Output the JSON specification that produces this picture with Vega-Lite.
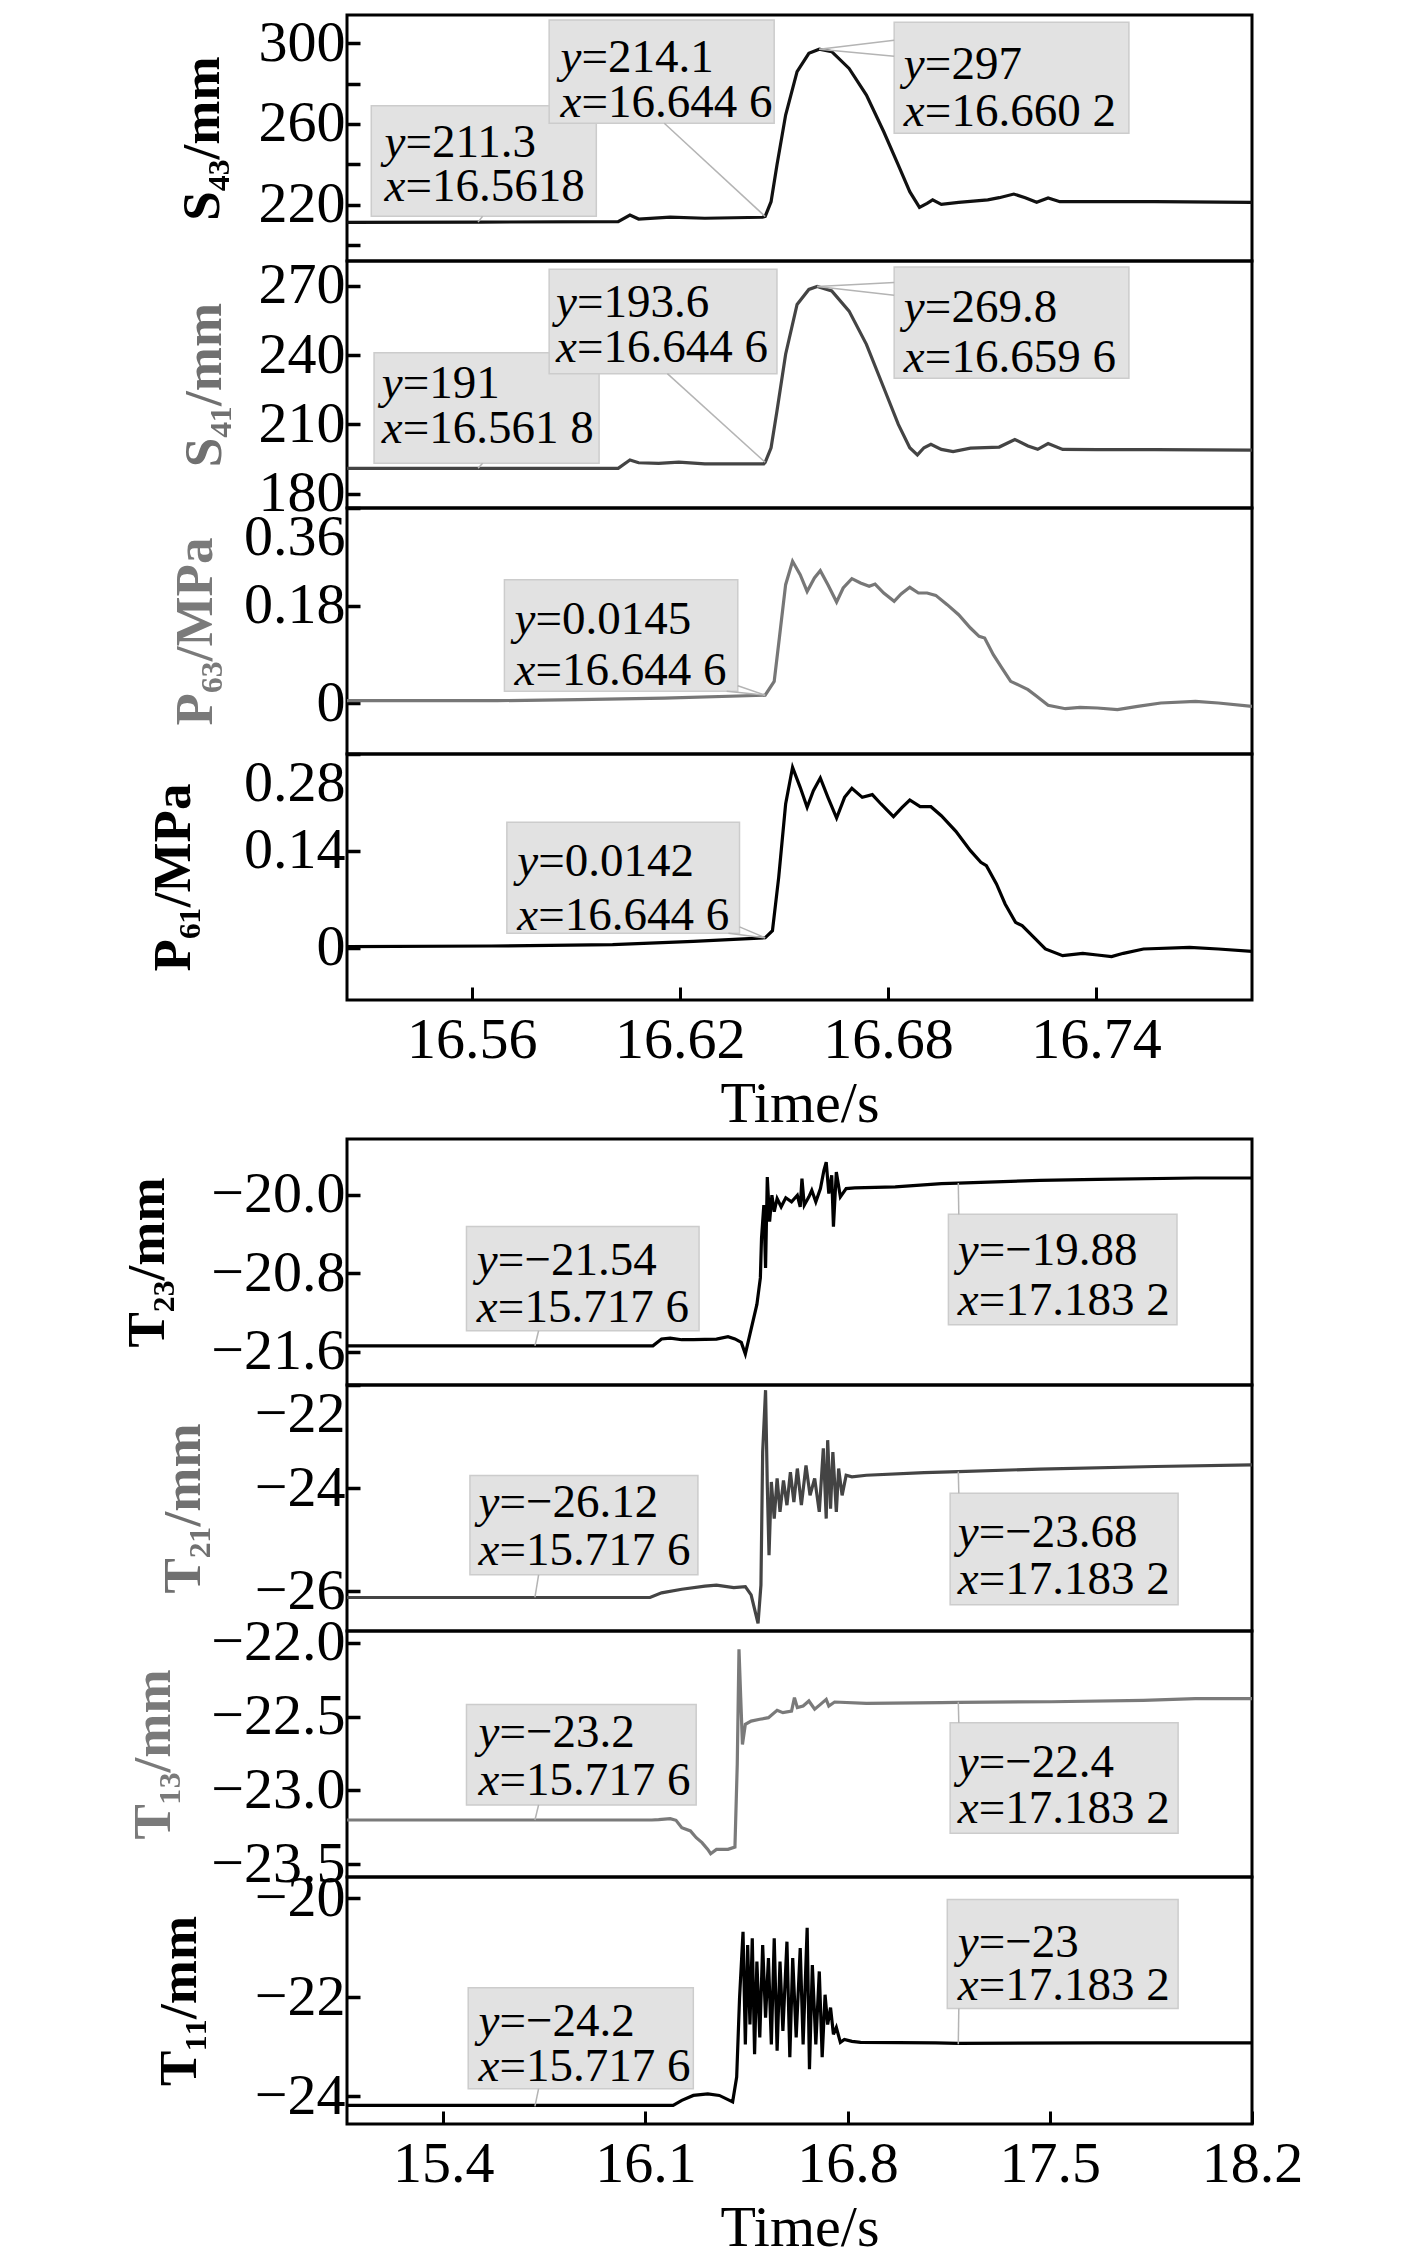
{
  "$schema": "https://vega.github.io/schema/vega-lite/v6.json",
  "background": "white",
  "padding": {"left": 119, "top": 12, "right": 10, "bottom": 0},
  "spacing": 2,
  "config": {
    "view": {"stroke": "#000000", "strokeWidth": 3},
    "axis": {"grid": false, "domain": false, "tickColor": "#000000", "tickSize": -13, "tickWidth": 3.5,
      "labelFont": "Liberation Serif", "labelFontSize": 58, "labelColor": "#000000",
      "titleFont": "Liberation Serif", "titleFontSize": 53, "titleColor": "#000000",
      "labelPadding": 15, "labelFlush": 2, "labelOverlap": false},
    "axisX": {"labelFlush": false, "titleFontWeight": "normal", "titleFontSize": 58, "labelPadding": 24, "titlePadding": 6, "tickWidth": 3},
    "axisY": {"titleFontWeight": "bold", "titleBaseline": "middle"},
    "text": {"font": "Liberation Serif"}
  },
  "datasets": {
    "s43": [
      {"x":16.524,"y":211.2},{"x":16.5623,"y":211.3},{"x":16.6022,"y":211.5},{"x":16.6056,"y":214.8},{"x":16.6081,"y":212.8},{"x":16.6172,"y":213.8},{"x":16.6272,"y":213.2},{"x":16.6438,"y":213.7},{"x":16.6446,"y":214.1},{"x":16.6463,"y":221.4},{"x":16.648,"y":239.6},{"x":16.6505,"y":264.4},{"x":16.6538,"y":285.9},{"x":16.6572,"y":295.0},{"x":16.6602,"y":297.0},{"x":16.6638,"y":295.8},{"x":16.6688,"y":287.5},{"x":16.6738,"y":274.3},{"x":16.6788,"y":256.1},{"x":16.683,"y":239.6},{"x":16.6863,"y":226.4},{"x":16.6891,"y":218.6},{"x":16.6913,"y":220.6},{"x":16.6929,"y":222.3},{"x":16.6954,"y":220.1},{"x":16.7004,"y":221.1},{"x":16.7088,"y":222.3},{"x":16.7121,"y":223.4},{"x":16.7163,"y":225.2},{"x":16.7196,"y":223.4},{"x":16.7229,"y":221.1},{"x":16.7262,"y":223.3},{"x":16.7296,"y":221.4},{"x":16.7404,"y":221.4},{"x":16.757,"y":221.4},{"x":16.785,"y":221.1}
    ],
    "s43b": [
      {"x":16.531,"x2":16.5959,"y":269.0,"y2":214.2},
      {"x":16.5823,"x2":16.6472,"y":311.5,"y2":260.3},
      {"x":16.6818,"x2":16.7495,"y":310.4,"y2":255.3}
    ],
    "s43l": [
      {"x":16.5631,"y":214.2,"x2":16.5618,"y2":211.3},
      {"x":16.6155,"y":260.3,"x2":16.6446,"y2":214.1},
      {"x":16.6818,"y":301.5,"x2":16.6602,"y2":297},
      {"x":16.6818,"y":293.5,"x2":16.6602,"y2":297}
    ],
    "s43t": [
      {"x":16.5348,"y":250.4,"p":"y","v":"=211.3"},{"x":16.5348,"y":228.9,"p":"x","v":"=16.5618"},
      {"x":16.5856,"y":292.5,"p":"y","v":"=214.1"},{"x":16.5856,"y":270.2,"p":"x","v":"=16.644 6"},
      {"x":16.6846,"y":289.2,"p":"y","v":"=297"},{"x":16.6846,"y":266.1,"p":"x","v":"=16.660 2"}
    ],
    "s41": [
      {"x":16.524,"y":191.0},{"x":16.5623,"y":191.0},{"x":16.6022,"y":191.0},{"x":16.6056,"y":194.6},{"x":16.6081,"y":193.4},{"x":16.6139,"y":193.1},{"x":16.6197,"y":193.7},{"x":16.6272,"y":192.9},{"x":16.6442,"y":192.9},{"x":16.6446,"y":193.6},{"x":16.6463,"y":199.9},{"x":16.648,"y":215.8},{"x":16.6505,"y":240.4},{"x":16.6538,"y":262.0},{"x":16.6572,"y":268.5},{"x":16.6596,"y":269.8},{"x":16.6638,"y":267.8},{"x":16.6688,"y":259.1},{"x":16.6738,"y":244.7},{"x":16.6788,"y":225.9},{"x":16.683,"y":210.0},{"x":16.6863,"y":199.9},{"x":16.6885,"y":196.8},{"x":16.6904,"y":199.9},{"x":16.6924,"y":201.4},{"x":16.6954,"y":199.2},{"x":16.6988,"y":198.2},{"x":16.7038,"y":199.7},{"x":16.7121,"y":200.2},{"x":16.7166,"y":203.5},{"x":16.7204,"y":200.7},{"x":16.7232,"y":199.2},{"x":16.7262,"y":201.7},{"x":16.7304,"y":199.2},{"x":16.7404,"y":199.1},{"x":16.757,"y":199.1},{"x":16.785,"y":198.9}
    ],
    "s41b": [
      {"x":16.5318,"x2":16.5967,"y":241.1,"y2":193.2},
      {"x":16.5823,"x2":16.648,"y":277.2,"y2":232.0},
      {"x":16.6818,"x2":16.7495,"y":278.2,"y2":230.0}
    ],
    "s41l": [
      {"x":16.5631,"y":193.2,"x2":16.5618,"y2":191},
      {"x":16.6164,"y":232.0,"x2":16.6446,"y2":193.6},
      {"x":16.6818,"y":271.5,"x2":16.6596,"y2":269.8},
      {"x":16.6818,"y":266.0,"x2":16.6596,"y2":269.8}
    ],
    "s41t": [
      {"x":16.534,"y":227.4,"p":"y","v":"=191"},{"x":16.534,"y":207.9,"p":"x","v":"=16.561 8"},
      {"x":16.5843,"y":262.75,"p":"y","v":"=193.6"},{"x":16.5843,"y":243.0,"p":"x","v":"=16.644 6"},
      {"x":16.6846,"y":260.6,"p":"y","v":"=269.8"},{"x":16.6846,"y":238.9,"p":"x","v":"=16.659 6"}
    ],
    "p63": [
      {"x":16.524,"y":0.0044},{"x":16.5673,"y":0.0044},{"x":16.5906,"y":0.0063},{"x":16.6155,"y":0.0093},{"x":16.6446,"y":0.0145},{"x":16.6472,"y":0.04},{"x":16.6488,"y":0.126},{"x":16.6505,"y":0.2185},{"x":16.6525,"y":0.2616},{"x":16.6547,"y":0.237},{"x":16.6567,"y":0.206},{"x":16.6588,"y":0.231},{"x":16.6605,"y":0.2443},{"x":16.6627,"y":0.2185},{"x":16.6652,"y":0.1865},{"x":16.6671,"y":0.2124},{"x":16.6696,"y":0.2296},{"x":16.6721,"y":0.2216},{"x":16.6746,"y":0.2154},{"x":16.6763,"y":0.2197},{"x":16.6788,"y":0.2031},{"x":16.6818,"y":0.1877},{"x":16.6838,"y":0.2013},{"x":16.6863,"y":0.2136},{"x":16.6888,"y":0.2031},{"x":16.6913,"y":0.2031},{"x":16.6938,"y":0.1988},{"x":16.6971,"y":0.1816},{"x":16.7004,"y":0.1631},{"x":16.7038,"y":0.1385},{"x":16.7063,"y":0.1231},{"x":16.7079,"y":0.1201},{"x":16.7104,"y":0.0893},{"x":16.7129,"y":0.0647},{"x":16.7154,"y":0.0401},{"x":16.7179,"y":0.0327},{"x":16.7204,"y":0.0247},{"x":16.7229,"y":0.0124},{"x":16.7262,"y":-0.0042},{"x":16.7312,"y":-0.0104},{"x":16.7354,"y":-0.0079},{"x":16.7404,"y":-0.0091},{"x":16.7462,"y":-0.0122},{"x":16.752,"y":-0.006},{"x":16.7587,"y":0.0001},{"x":16.7687,"y":0.0032},{"x":16.7753,"y":0.0001},{"x":16.785,"y":-0.006}
    ],
    "p63b": [{"x":16.5694,"x2":16.6367,"y":0.2277,"y2":0.0216}],
    "p63l": [
      {"x":16.6367,"y":0.032,"x2":16.6446,"y2":0.0145},
      {"x":16.6335,"y":0.0216,"x2":16.6446,"y2":0.0145}
    ],
    "p63t": [
      {"x":16.5723,"y":0.1539,"p":"y","v":"=0.0145"},{"x":16.5723,"y":0.0586,"p":"x","v":"=16.644 6"}
    ],
    "p61": [
      {"x":16.524,"y":0.0013},{"x":16.5656,"y":0.0023},{"x":16.6006,"y":0.0042},{"x":16.6239,"y":0.0091},{"x":16.6446,"y":0.0142},{"x":16.6467,"y":0.0245},{"x":16.6485,"y":0.1016},{"x":16.6505,"y":0.2077},{"x":16.6525,"y":0.2607},{"x":16.6547,"y":0.2318},{"x":16.6567,"y":0.2029},{"x":16.6585,"y":0.227},{"x":16.6605,"y":0.2453},{"x":16.6627,"y":0.2173},{"x":16.6652,"y":0.1874},{"x":16.6675,"y":0.2173},{"x":16.6696,"y":0.2303},{"x":16.6726,"y":0.2173},{"x":16.6755,"y":0.2212},{"x":16.678,"y":0.2077},{"x":16.6816,"y":0.1894},{"x":16.6841,"y":0.2029},{"x":16.6863,"y":0.2135},{"x":16.6893,"y":0.2038},{"x":16.6924,"y":0.2038},{"x":16.6954,"y":0.1908},{"x":16.6996,"y":0.1682},{"x":16.7038,"y":0.1402},{"x":16.7068,"y":0.1233},{"x":16.7084,"y":0.1185},{"x":16.7113,"y":0.092},{"x":16.7138,"y":0.0631},{"x":16.7168,"y":0.0365},{"x":16.7187,"y":0.0317},{"x":16.7221,"y":0.0148},{"x":16.7254,"y":-0.002},{"x":16.7304,"y":-0.0117},{"x":16.7362,"y":-0.0083},{"x":16.7404,"y":-0.0107},{"x":16.7445,"y":-0.0131},{"x":16.7479,"y":-0.0083},{"x":16.7537,"y":-0.002},{"x":16.767,"y":0.0004},{"x":16.7753,"y":-0.002},{"x":16.785,"y":-0.0054}
    ],
    "p61b": [{"x":16.5701,"x2":16.6372,"y":0.1812,"y2":0.0206}],
    "p61l": [
      {"x":16.6372,"y":0.03,"x2":16.6446,"y2":0.0142},
      {"x":16.634,"y":0.0206,"x2":16.6446,"y2":0.0142}
    ],
    "p61t": [
      {"x":16.5731,"y":0.1233,"p":"y","v":"=0.0142"},{"x":16.5731,"y":0.0462,"p":"x","v":"=16.644 6"}
    ],
    "t23": [
      {"x":15.067,"y":-21.54},{"x":15.7176,"y":-21.54},{"x":16.126,"y":-21.54},{"x":16.156,"y":-21.471},{"x":16.186,"y":-21.461},{"x":16.226,"y":-21.478},{"x":16.266,"y":-21.478},{"x":16.346,"y":-21.471},{"x":16.386,"y":-21.447},{"x":16.41,"y":-21.47},{"x":16.432,"y":-21.505},{"x":16.446,"y":-21.623},{"x":16.462,"y":-21.42},{"x":16.486,"y":-21.117},{"x":16.498,"y":-20.847},{"x":16.502,"y":-20.442},{"x":16.51,"y":-20.105},{"x":16.516,"y":-20.746},{"x":16.522,"y":-19.818},{"x":16.53,"y":-20.273},{"x":16.538,"y":-20.004},{"x":16.546,"y":-20.172},{"x":16.556,"y":-20.037},{"x":16.57,"y":-20.122},{"x":16.586,"y":-20.03},{"x":16.606,"y":-20.071},{"x":16.626,"y":-20.004},{"x":16.636,"y":-20.122},{"x":16.642,"y":-19.835},{"x":16.65,"y":-20.105},{"x":16.666,"y":-20.02},{"x":16.676,"y":-19.953},{"x":16.69,"y":-20.071},{"x":16.706,"y":-19.936},{"x":16.718,"y":-19.75},{"x":16.726,"y":-19.666},{"x":16.735,"y":-19.987},{"x":16.745,"y":-19.801},{"x":16.751,"y":-20.324},{"x":16.761,"y":-19.767},{"x":16.775,"y":-20.02},{"x":16.795,"y":-19.936},{"x":16.825,"y":-19.929},{"x":16.965,"y":-19.919},{"x":17.125,"y":-19.885},{"x":17.1832,"y":-19.88},{"x":17.465,"y":-19.852},{"x":17.665,"y":-19.842},{"x":18.004,"y":-19.828},{"x":18.2,"y":-19.828}
    ],
    "t23b": [
      {"x":15.4806,"x2":16.2858,"y":-20.324,"y2":-21.387},
      {"x":17.149,"x2":17.9403,"y":-20.199,"y2":-21.326}
    ],
    "t23l": [
      {"x":15.7303,"y":-21.387,"x2":15.7176,"y2":-21.54},
      {"x":17.185,"y":-20.199,"x2":17.1832,"y2":-19.88}
    ],
    "t23t": [
      {"x":15.5166,"y":-20.678,"p":"y","v":"=−21.54"},{"x":15.5166,"y":-21.151,"p":"x","v":"=15.717 6"},
      {"x":17.181,"y":-20.577,"p":"y","v":"=−19.88"},{"x":17.181,"y":-21.083,"p":"x","v":"=17.183 2"}
    ],
    "t21": [
      {"x":15.067,"y":-26.12},{"x":15.7176,"y":-26.12},{"x":16.116,"y":-26.12},{"x":16.156,"y":-26.03},{"x":16.226,"y":-25.96},{"x":16.306,"y":-25.9},{"x":16.346,"y":-25.88},{"x":16.406,"y":-25.93},{"x":16.446,"y":-25.91},{"x":16.466,"y":-26.07},{"x":16.49,"y":-26.62},{"x":16.5,"y":-25.88},{"x":16.506,"y":-23.3},{"x":16.516,"y":-22.1},{"x":16.522,"y":-23.94},{"x":16.528,"y":-25.3},{"x":16.536,"y":-23.88},{"x":16.546,"y":-24.59},{"x":16.556,"y":-23.81},{"x":16.566,"y":-24.46},{"x":16.578,"y":-23.85},{"x":16.59,"y":-24.33},{"x":16.602,"y":-23.69},{"x":16.614,"y":-24.27},{"x":16.626,"y":-23.62},{"x":16.64,"y":-24.33},{"x":16.656,"y":-23.56},{"x":16.67,"y":-24.14},{"x":16.686,"y":-23.81},{"x":16.702,"y":-24.46},{"x":16.716,"y":-23.23},{"x":16.726,"y":-24.59},{"x":16.731,"y":-23.07},{"x":16.741,"y":-24.4},{"x":16.749,"y":-23.3},{"x":16.761,"y":-24.46},{"x":16.769,"y":-23.62},{"x":16.781,"y":-24.14},{"x":16.795,"y":-23.75},{"x":16.815,"y":-23.78},{"x":16.865,"y":-23.75},{"x":17.065,"y":-23.7},{"x":17.1832,"y":-23.68},{"x":17.465,"y":-23.63},{"x":17.864,"y":-23.58},{"x":18.2,"y":-23.55}
    ],
    "t21b": [
      {"x":15.4926,"x2":16.2818,"y":-23.757,"y2":-25.68},
      {"x":17.155,"x2":17.9442,"y":-24.099,"y2":-26.26}
    ],
    "t21l": [
      {"x":15.7303,"y":-25.68,"x2":15.7176,"y2":-26.12},
      {"x":17.185,"y":-24.099,"x2":17.1832,"y2":-23.68}
    ],
    "t21t": [
      {"x":15.5226,"y":-24.293,"p":"y","v":"=−26.12"},{"x":15.5226,"y":-25.228,"p":"x","v":"=15.717 6"},
      {"x":17.181,"y":-24.873,"p":"y","v":"=−23.68"},{"x":17.181,"y":-25.776,"p":"x","v":"=17.183 2"}
    ],
    "t13": [
      {"x":15.067,"y":-23.2},{"x":15.7176,"y":-23.2},{"x":16.122,"y":-23.2},{"x":16.146,"y":-23.198},{"x":16.186,"y":-23.191},{"x":16.206,"y":-23.202},{"x":16.226,"y":-23.252},{"x":16.256,"y":-23.274},{"x":16.276,"y":-23.32},{"x":16.296,"y":-23.353},{"x":16.316,"y":-23.399},{"x":16.326,"y":-23.428},{"x":16.346,"y":-23.399},{"x":16.386,"y":-23.399},{"x":16.41,"y":-23.383},{"x":16.418,"y":-22.823},{"x":16.424,"y":-22.044},{"x":16.43,"y":-22.371},{"x":16.436,"y":-22.688},{"x":16.446,"y":-22.552},{"x":16.466,"y":-22.53},{"x":16.496,"y":-22.518},{"x":16.526,"y":-22.507},{"x":16.556,"y":-22.457},{"x":16.576,"y":-22.473},{"x":16.606,"y":-22.462},{"x":16.616,"y":-22.371},{"x":16.626,"y":-22.439},{"x":16.646,"y":-22.428},{"x":16.666,"y":-22.394},{"x":16.686,"y":-22.45},{"x":16.706,"y":-22.417},{"x":16.726,"y":-22.383},{"x":16.735,"y":-22.428},{"x":16.755,"y":-22.401},{"x":16.865,"y":-22.41},{"x":17.125,"y":-22.405},{"x":17.1832,"y":-22.403},{"x":17.505,"y":-22.399},{"x":17.824,"y":-22.39},{"x":18.004,"y":-22.378},{"x":18.2,"y":-22.378}
    ],
    "t13b": [
      {"x":15.4806,"x2":16.2758,"y":-22.417,"y2":-23.098},
      {"x":17.155,"x2":17.9442,"y":-22.541,"y2":-23.29}
    ],
    "t13l": [
      {"x":15.7303,"y":-23.098,"x2":15.7176,"y2":-23.2},
      {"x":17.185,"y":-22.541,"x2":17.1832,"y2":-22.4}
    ],
    "t13t": [
      {"x":15.5226,"y":-22.609,"p":"y","v":"=−23.2"},{"x":15.5226,"y":-22.936,"p":"x","v":"=15.717 6"},
      {"x":17.181,"y":-22.812,"p":"y","v":"=−22.4"},{"x":17.181,"y":-23.128,"p":"x","v":"=17.183 2"}
    ],
    "t11": [
      {"x":15.067,"y":-24.18},{"x":16.196,"y":-24.18},{"x":16.226,"y":-24.08},{"x":16.266,"y":-23.98},{"x":16.316,"y":-23.95},{"x":16.356,"y":-23.98},{"x":16.402,"y":-24.11},{"x":16.416,"y":-23.61},{"x":16.426,"y":-22.01},{"x":16.438,"y":-20.68},{"x":16.446,"y":-22.95},{"x":16.454,"y":-20.95},{"x":16.462,"y":-22.55},{"x":16.47,"y":-20.81},{"x":16.478,"y":-23.15},{"x":16.486,"y":-21.28},{"x":16.496,"y":-22.81},{"x":16.506,"y":-20.95},{"x":16.516,"y":-22.41},{"x":16.526,"y":-21.21},{"x":16.536,"y":-22.95},{"x":16.546,"y":-20.81},{"x":16.556,"y":-23.08},{"x":16.566,"y":-21.28},{"x":16.576,"y":-22.68},{"x":16.59,"y":-20.88},{"x":16.6,"y":-23.21},{"x":16.61,"y":-21.21},{"x":16.622,"y":-22.81},{"x":16.636,"y":-21.01},{"x":16.646,"y":-22.95},{"x":16.66,"y":-20.6},{"x":16.668,"y":-23.45},{"x":16.678,"y":-21.35},{"x":16.69,"y":-22.95},{"x":16.702,"y":-21.48},{"x":16.712,"y":-23.21},{"x":16.722,"y":-21.95},{"x":16.731,"y":-22.55},{"x":16.741,"y":-22.21},{"x":16.751,"y":-22.75},{"x":16.761,"y":-22.61},{"x":16.775,"y":-22.91},{"x":16.789,"y":-22.85},{"x":16.815,"y":-22.89},{"x":16.845,"y":-22.91},{"x":17.105,"y":-22.92},{"x":17.1832,"y":-22.93},{"x":17.665,"y":-22.92},{"x":18.2,"y":-22.92}
    ],
    "t11b": [
      {"x":15.4866,"x2":16.2659,"y":-21.809,"y2":-23.843},
      {"x":17.1451,"x2":17.9442,"y":-20.029,"y2":-22.229}
    ],
    "t11l": [
      {"x":15.7303,"y":-23.843,"x2":15.7176,"y2":-24.2},
      {"x":17.185,"y":-22.229,"x2":17.1832,"y2":-22.95}
    ],
    "t11t": [
      {"x":15.5226,"y":-22.509,"p":"y","v":"=−24.2"},{"x":15.5226,"y":-23.409,"p":"x","v":"=15.717 6"},
      {"x":17.181,"y":-20.909,"p":"y","v":"=−23"},{"x":17.181,"y":-21.776,"p":"x","v":"=17.183 2"}
    ]
  },
  "vconcat": [
    {
      "spacing": 0,
      "bounds": "flush",
      "vconcat": [
        {
          "width": 905, "height": 246,
          "encoding": {
            "x": {"field": "x", "type": "quantitative", "scale": {"domain": [16.524, 16.785], "nice": false, "zero": false}, "axis": null},
            "y": {"field": "y", "type": "quantitative", "scale": {"domain": [192, 314], "nice": false, "zero": false},
              "axis": {"title": "S₄₃/mm", "titleX": -145, "values": [200, 220, 240, 260, 280, 300], "labelExpr": "datum.value % 40 == 20 ? datum.label : ''"}}
          },
          "layer": [
            {"data": {"name": "s43"}, "mark": {"type": "line", "color": "#111111", "strokeWidth": 3.2, "clip": true}},
            {"data": {"name": "s43b"}, "mark": {"type": "rect", "fill": "#e2e2e2", "stroke": "#cccccc", "strokeWidth": 1.5}, "encoding": {"x2": {"field": "x2"}, "y2": {"field": "y2"}}},
            {"data": {"name": "s43l"}, "mark": {"type": "rule", "color": "#b4b4b4", "strokeWidth": 1.5}, "encoding": {"x2": {"field": "x2"}, "y2": {"field": "y2"}}},
            {"data": {"name": "s43t"}, "mark": {"type": "text", "fontSize": 47, "fontStyle": "italic", "align": "left", "baseline": "middle", "color": "#000000"}, "encoding": {"text": {"field": "p"}}},
            {"data": {"name": "s43t"}, "mark": {"type": "text", "fontSize": 47, "align": "left", "baseline": "middle", "dx": 21, "color": "#000000"}, "encoding": {"text": {"field": "v"}}}
          ]
        },
        {
          "width": 905, "height": 247,
          "encoding": {
            "x": {"field": "x", "type": "quantitative", "scale": {"domain": [16.524, 16.785], "nice": false, "zero": false}, "axis": null},
            "y": {"field": "y", "type": "quantitative", "scale": {"domain": [173.8, 280.8], "nice": false, "zero": false},
              "axis": {"title": "S₄₁/mm", "titleX": -143, "titleColor": "#707070", "values": [180, 210, 240, 270]}}
          },
          "layer": [
            {"data": {"name": "s41"}, "mark": {"type": "line", "color": "#444444", "strokeWidth": 3.2, "clip": true}},
            {"data": {"name": "s41b"}, "mark": {"type": "rect", "fill": "#e2e2e2", "stroke": "#cccccc", "strokeWidth": 1.5}, "encoding": {"x2": {"field": "x2"}, "y2": {"field": "y2"}}},
            {"data": {"name": "s41l"}, "mark": {"type": "rule", "color": "#b4b4b4", "strokeWidth": 1.5}, "encoding": {"x2": {"field": "x2"}, "y2": {"field": "y2"}}},
            {"data": {"name": "s41t"}, "mark": {"type": "text", "fontSize": 47, "fontStyle": "italic", "align": "left", "baseline": "middle", "color": "#000000"}, "encoding": {"text": {"field": "p"}}},
            {"data": {"name": "s41t"}, "mark": {"type": "text", "fontSize": 47, "align": "left", "baseline": "middle", "dx": 21, "color": "#000000"}, "encoding": {"text": {"field": "v"}}}
          ]
        },
        {
          "width": 905, "height": 246,
          "encoding": {
            "x": {"field": "x", "type": "quantitative", "scale": {"domain": [16.524, 16.785], "nice": false, "zero": false}, "axis": null},
            "y": {"field": "y", "type": "quantitative", "scale": {"domain": [-0.094, 0.36], "nice": false, "zero": false},
              "axis": {"title": "P₆₃/MPa", "titleX": -152, "titleColor": "#7a7a7a", "values": [0, 0.18, 0.36], "format": ".2~f"}}
          },
          "layer": [
            {"data": {"name": "p63"}, "mark": {"type": "line", "color": "#777777", "strokeWidth": 3.2, "clip": true}},
            {"data": {"name": "p63b"}, "mark": {"type": "rect", "fill": "#e2e2e2", "stroke": "#cccccc", "strokeWidth": 1.5}, "encoding": {"x2": {"field": "x2"}, "y2": {"field": "y2"}}},
            {"data": {"name": "p63l"}, "mark": {"type": "rule", "color": "#b4b4b4", "strokeWidth": 1.5}, "encoding": {"x2": {"field": "x2"}, "y2": {"field": "y2"}}},
            {"data": {"name": "p63t"}, "mark": {"type": "text", "fontSize": 47, "fontStyle": "italic", "align": "left", "baseline": "middle", "color": "#000000"}, "encoding": {"text": {"field": "p"}}},
            {"data": {"name": "p63t"}, "mark": {"type": "text", "fontSize": 47, "align": "left", "baseline": "middle", "dx": 21, "color": "#000000"}, "encoding": {"text": {"field": "v"}}}
          ]
        },
        {
          "width": 905, "height": 246,
          "encoding": {
            "x": {"field": "x", "type": "quantitative", "scale": {"domain": [16.524, 16.785], "nice": false, "zero": false},
              "axis": {"title": "Time/s", "values": [16.56, 16.62, 16.68, 16.74], "format": ".2f"}},
            "y": {"field": "y", "type": "quantitative", "scale": {"domain": [-0.0758, 0.28], "nice": false, "zero": false},
              "axis": {"title": "P₆₁/MPa", "titleX": -174, "values": [0, 0.14, 0.28], "format": ".2~f"}}
          },
          "layer": [
            {"data": {"name": "p61"}, "mark": {"type": "line", "color": "#000000", "strokeWidth": 3.2, "clip": true}},
            {"data": {"name": "p61b"}, "mark": {"type": "rect", "fill": "#e2e2e2", "stroke": "#cccccc", "strokeWidth": 1.5}, "encoding": {"x2": {"field": "x2"}, "y2": {"field": "y2"}}},
            {"data": {"name": "p61l"}, "mark": {"type": "rule", "color": "#b4b4b4", "strokeWidth": 1.5}, "encoding": {"x2": {"field": "x2"}, "y2": {"field": "y2"}}},
            {"data": {"name": "p61t"}, "mark": {"type": "text", "fontSize": 47, "fontStyle": "italic", "align": "left", "baseline": "middle", "color": "#000000"}, "encoding": {"text": {"field": "p"}}},
            {"data": {"name": "p61t"}, "mark": {"type": "text", "fontSize": 47, "align": "left", "baseline": "middle", "dx": 21, "color": "#000000"}, "encoding": {"text": {"field": "v"}}}
          ]
        }
      ]
    },
    {
      "spacing": 0,
      "bounds": "flush",
      "vconcat": [
        {
          "width": 905, "height": 246,
          "encoding": {
            "x": {"field": "x", "type": "quantitative", "scale": {"domain": [15.067, 18.2], "nice": false, "zero": false}, "axis": null},
            "y": {"field": "y", "type": "quantitative", "scale": {"domain": [-21.94, -19.43], "nice": false, "zero": false},
              "axis": {"title": "T₂₃/mm", "titleX": -200, "values": [-21.6, -20.8, -20.0], "format": ".1f"}}
          },
          "layer": [
            {"data": {"name": "t23"}, "mark": {"type": "line", "color": "#000000", "strokeWidth": 3.2, "clip": true}},
            {"data": {"name": "t23b"}, "mark": {"type": "rect", "fill": "#e2e2e2", "stroke": "#cccccc", "strokeWidth": 1.5}, "encoding": {"x2": {"field": "x2"}, "y2": {"field": "y2"}}},
            {"data": {"name": "t23l"}, "mark": {"type": "rule", "color": "#b4b4b4", "strokeWidth": 1.5}, "encoding": {"x2": {"field": "x2"}, "y2": {"field": "y2"}}},
            {"data": {"name": "t23t"}, "mark": {"type": "text", "fontSize": 47, "fontStyle": "italic", "align": "left", "baseline": "middle", "color": "#000000"}, "encoding": {"text": {"field": "p"}}},
            {"data": {"name": "t23t"}, "mark": {"type": "text", "fontSize": 47, "align": "left", "baseline": "middle", "dx": 21, "color": "#000000"}, "encoding": {"text": {"field": "v"}}}
          ]
        },
        {
          "width": 905, "height": 246,
          "encoding": {
            "x": {"field": "x", "type": "quantitative", "scale": {"domain": [15.067, 18.2], "nice": false, "zero": false}, "axis": null},
            "y": {"field": "y", "type": "quantitative", "scale": {"domain": [-26.77, -22.0], "nice": false, "zero": false},
              "axis": {"title": "T₂₁/mm", "titleX": -164, "titleColor": "#707070", "values": [-26, -24, -22], "format": "d"}}
          },
          "layer": [
            {"data": {"name": "t21"}, "mark": {"type": "line", "color": "#444444", "strokeWidth": 3.2, "clip": true}},
            {"data": {"name": "t21b"}, "mark": {"type": "rect", "fill": "#e2e2e2", "stroke": "#cccccc", "strokeWidth": 1.5}, "encoding": {"x2": {"field": "x2"}, "y2": {"field": "y2"}}},
            {"data": {"name": "t21l"}, "mark": {"type": "rule", "color": "#b4b4b4", "strokeWidth": 1.5}, "encoding": {"x2": {"field": "x2"}, "y2": {"field": "y2"}}},
            {"data": {"name": "t21t"}, "mark": {"type": "text", "fontSize": 47, "fontStyle": "italic", "align": "left", "baseline": "middle", "color": "#000000"}, "encoding": {"text": {"field": "p"}}},
            {"data": {"name": "t21t"}, "mark": {"type": "text", "fontSize": 47, "align": "left", "baseline": "middle", "dx": 21, "color": "#000000"}, "encoding": {"text": {"field": "v"}}}
          ]
        },
        {
          "width": 905, "height": 246,
          "encoding": {
            "x": {"field": "x", "type": "quantitative", "scale": {"domain": [15.067, 18.2], "nice": false, "zero": false}, "axis": null},
            "y": {"field": "y", "type": "quantitative", "scale": {"domain": [-23.586, -21.92], "nice": false, "zero": false},
              "axis": {"title": "T₁₃/mm", "titleX": -194, "titleColor": "#7a7a7a", "values": [-23.5, -23.0, -22.5, -22.0], "format": ".1f"}}
          },
          "layer": [
            {"data": {"name": "t13"}, "mark": {"type": "line", "color": "#7a7a7a", "strokeWidth": 3.2, "clip": true}},
            {"data": {"name": "t13b"}, "mark": {"type": "rect", "fill": "#e2e2e2", "stroke": "#cccccc", "strokeWidth": 1.5}, "encoding": {"x2": {"field": "x2"}, "y2": {"field": "y2"}}},
            {"data": {"name": "t13l"}, "mark": {"type": "rule", "color": "#b4b4b4", "strokeWidth": 1.5}, "encoding": {"x2": {"field": "x2"}, "y2": {"field": "y2"}}},
            {"data": {"name": "t13t"}, "mark": {"type": "text", "fontSize": 47, "fontStyle": "italic", "align": "left", "baseline": "middle", "color": "#000000"}, "encoding": {"text": {"field": "p"}}},
            {"data": {"name": "t13t"}, "mark": {"type": "text", "fontSize": 47, "align": "left", "baseline": "middle", "dx": 21, "color": "#000000"}, "encoding": {"text": {"field": "v"}}}
          ]
        },
        {
          "width": 905, "height": 247,
          "encoding": {
            "x": {"field": "x", "type": "quantitative", "scale": {"domain": [15.067, 18.2], "nice": false, "zero": false},
              "axis": {"title": "Time/s", "values": [15.4, 16.1, 16.8, 17.5, 18.2], "format": ".1f"}},
            "y": {"field": "y", "type": "quantitative", "scale": {"domain": [-24.556, -19.576], "nice": false, "zero": false},
              "axis": {"title": "T₁₁/mm", "titleX": -168, "values": [-24, -22, -20], "format": "d"}}
          },
          "layer": [
            {"data": {"name": "t11"}, "mark": {"type": "line", "color": "#000000", "strokeWidth": 3.2, "clip": true}},
            {"data": {"name": "t11b"}, "mark": {"type": "rect", "fill": "#e2e2e2", "stroke": "#cccccc", "strokeWidth": 1.5}, "encoding": {"x2": {"field": "x2"}, "y2": {"field": "y2"}}},
            {"data": {"name": "t11l"}, "mark": {"type": "rule", "color": "#b4b4b4", "strokeWidth": 1.5}, "encoding": {"x2": {"field": "x2"}, "y2": {"field": "y2"}}},
            {"data": {"name": "t11t"}, "mark": {"type": "text", "fontSize": 47, "fontStyle": "italic", "align": "left", "baseline": "middle", "color": "#000000"}, "encoding": {"text": {"field": "p"}}},
            {"data": {"name": "t11t"}, "mark": {"type": "text", "fontSize": 47, "align": "left", "baseline": "middle", "dx": 21, "color": "#000000"}, "encoding": {"text": {"field": "v"}}}
          ]
        }
      ]
    }
  ]
}
